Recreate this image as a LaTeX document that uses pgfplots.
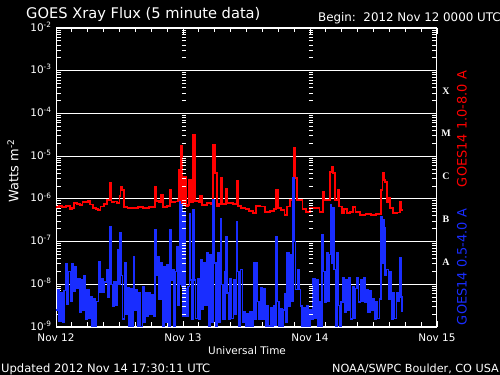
\documentclass[border=0pt]{standalone}
\usepackage{pgfplots}
\pgfplotsset{compat=1.18}
\usepackage{fontspec}
\setmainfont{DejaVu Sans}
\newfontfamily\serifb{Liberation Serif}
\definecolor{goesred}{RGB}{255,0,0}
\definecolor{goesblue}{RGB}{25,45,255}
\def\mylist{-9}
\foreach \n in {-9,...,-3}{%
  \foreach \k in {2,...,9}{%
    \pgfmathparse{\n+log10(\k)}%
    \xdef\mylist{\mylist,\pgfmathresult}%
  }%
}
\pgfplotstableread{
0.0 -6.19
0.5 -6.17
1.2 -6.20
1.9 -6.16
2.6 -6.23
3.0 -6.21
3.4 -6.09
4.0 -6.12
4.5 -6.14
5.0 -6.08
5.5 -6.07
6.0 -6.05
6.4 -6.13
7.0 -6.21
7.6 -6.24
8.0 -6.26
8.4 -6.18
9.0 -6.12
9.6 -6.02
10.0 -6.04
10.2 -5.63
10.5 -6.08
11.0 -6.06
11.5 -6.10
12.0 -5.93
12.2 -5.72
12.5 -5.80
12.8 -6.20
13.5 -6.21
14.5 -6.22
15.5 -6.20
16.5 -6.21
17.5 -6.19
18.3 -6.20
18.7 -5.72
19.0 -6.05
19.5 -6.08
19.8 -5.91
20.2 -6.19
21.0 -6.16
21.5 -5.79
21.8 -6.08
22.5 -6.06
23.0 -6.02
23.3 -5.33
23.5 -6.10
23.6 -4.77
23.9 -6.12
24.2 -5.49
24.5 -6.16
25.0 -6.15
25.2 -5.56
25.5 -6.07
25.9 -4.51
26.2 -6.05
27.0 -6.08
27.2 -5.93
27.6 -6.14
28.5 -6.10
29.3 -6.12
29.7 -4.74
30.0 -5.40
30.4 -6.16
30.8 -6.12
31.1 -5.51
31.4 -6.12
32.1 -5.77
32.4 -6.10
33.5 -6.12
34.1 -5.58
34.4 -6.16
35.0 -6.22
35.8 -6.24
36.4 -6.28
37.2 -6.33
37.8 -6.16
38.6 -6.18
39.5 -6.30
40.4 -6.28
41.2 -6.24
41.6 -5.79
41.9 -6.21
42.5 -6.26
43.2 -6.37
43.7 -6.18
44.2 -6.02
44.7 -6.00
44.9 -4.81
45.2 -5.51
45.5 -6.02
46.1 -6.03
46.6 -6.24
47.2 -6.30
48.0 -6.21
49.0 -6.22
49.8 -6.30
50.4 -5.84
50.7 -6.02
51.3 -6.02
51.8 -5.37
52.1 -5.26
52.4 -5.40
52.7 -6.02
53.2 -5.79
53.5 -6.18
54.0 -6.33
54.5 -6.24
55.0 -6.33
55.6 -6.30
56.1 -6.19
56.6 -6.30
57.5 -6.37
58.5 -6.36
59.5 -6.37
60.5 -6.35
61.2 -6.35
61.4 -5.79
61.7 -5.40
62.0 -5.55
62.2 -5.60
62.5 -6.07
62.8 -5.98
63.1 -6.21
63.7 -6.33
64.5 -6.32
65.0 -6.07
65.3 -6.26
65.5 -6.26
}\longdata
\pgfplotstableread{
0.0 -8.6
0.3 -8.12
0.6 -8.86
0.9 -8.2
1.2 -8.9
1.5 -8.15
1.8 -7.53
2.1 -8.47
2.4 -7.7
2.7 -8.4
3.0 -7.53
3.3 -8.16
3.6 -7.6
3.9 -8.1
4.2 -7.88
4.5 -8.65
4.8 -7.9
5.1 -8.6
5.3 -7.81
5.6 -8.81
5.9 -8.12
6.2 -8.8
6.5 -8.30
6.8 -9.05
7.1 -8.35
7.4 -9.05
7.7 -8.4
8.0 -7.47
8.3 -8.19
8.6 -7.88
8.9 -8.19
9.2 -7.95
9.5 -7.65
9.8 -8.3
10.1 -8.0
10.2 -6.65
10.4 -8.0
10.7 -8.51
11.0 -7.95
11.3 -8.5
11.6 -7.19
11.8 -8.0
12.1 -6.79
12.3 -7.8
12.6 -8.81
12.9 -7.49
13.2 -8.7
13.5 -8.07
13.8 -9.05
14.1 -8.1
14.4 -9.05
14.6 -7.35
14.8 -8.6
15.1 -8.12
15.4 -9.05
15.7 -8.2
16.0 -9.0
16.3 -8.05
16.6 -8.9
16.9 -8.19
17.2 -8.74
17.5 -8.2
17.8 -8.7
18.1 -8.25
18.4 -8.74
18.7 -6.72
18.9 -7.8
19.2 -7.35
19.5 -8.35
19.8 -7.49
20.1 -9.0
20.4 -7.6
20.7 -8.9
21.0 -7.55
21.3 -9.0
21.5 -6.72
21.7 -7.9
22.0 -7.65
22.3 -8.98
22.6 -7.7
22.9 -7.12
23.1 -8.5
23.3 -6.07
23.45 -8.0
23.6 -6.14
23.8 -8.05
24.0 -8.74
24.2 -6.33
24.4 -8.1
24.6 -8.74
24.9 -8.05
25.2 -6.35
25.4 -7.9
25.6 -8.81
25.9 -6.26
26.1 -7.9
26.4 -8.8
26.7 -7.88
27.0 -8.81
27.3 -7.42
27.6 -8.58
27.9 -7.5
28.2 -8.5
28.5 -7.26
28.8 -9.0
29.1 -7.3
29.4 -8.9
29.7 -6.02
29.9 -7.5
30.2 -8.98
30.5 -7.26
30.8 -8.9
31.1 -6.47
31.3 -8.0
31.6 -8.81
31.9 -7.7
32.1 -6.88
32.3 -8.2
32.6 -8.81
32.9 -7.88
33.2 -8.8
33.5 -7.9
33.8 -8.7
34.1 -6.53
34.3 -7.7
34.6 -8.98
34.9 -7.65
35.2 -8.9
35.5 -8.65
35.8 -9.05
36.1 -8.7
36.4 -9.05
36.7 -8.65
37.0 -9.05
37.3 -7.49
37.6 -8.81
37.8 -7.49
38.1 -8.4
38.4 -8.81
38.7 -8.07
39.0 -8.81
39.3 -8.1
39.6 -8.98
39.9 -8.51
40.2 -8.98
40.5 -8.55
40.8 -8.98
41.1 -8.5
41.4 -8.95
41.6 -6.88
41.8 -8.4
42.1 -9.0
42.4 -8.58
42.7 -9.0
43.0 -8.6
43.3 -8.23
43.5 -8.9
43.7 -7.26
44.0 -8.51
44.3 -7.3
44.6 -8.4
44.8 -5.51
45.0 -7.0
45.3 -8.12
45.6 -7.65
45.9 -8.12
46.2 -8.51
46.5 -9.0
46.8 -8.55
47.1 -9.0
47.4 -8.5
47.7 -9.05
48.0 -8.6
48.3 -8.81
48.6 -7.88
48.9 -8.8
49.2 -7.9
49.5 -8.98
49.8 -8.42
50.1 -8.98
50.3 -6.84
50.5 -7.7
50.8 -8.42
51.1 -7.26
51.4 -8.4
51.7 -7.3
51.9 -6.14
52.1 -7.5
52.3 -6.2
52.5 -7.65
52.8 -8.98
53.1 -7.26
53.3 -8.5
53.6 -8.98
53.9 -8.42
54.2 -7.84
54.5 -8.65
54.8 -7.9
55.1 -8.6
55.4 -7.84
55.7 -8.81
56.0 -8.05
56.3 -8.8
56.6 -8.1
56.9 -7.84
57.2 -8.42
57.5 -7.9
57.8 -8.4
58.1 -7.84
58.4 -8.42
58.7 -8.12
59.0 -8.65
59.3 -8.15
59.6 -8.6
59.9 -8.35
60.2 -8.81
60.5 -8.4
60.8 -8.8
61.1 -8.35
61.4 -6.42
61.6 -7.5
61.8 -6.49
62.0 -6.67
62.2 -7.8
62.5 -7.65
62.8 -8.35
63.1 -7.7
63.4 -8.81
63.7 -8.19
64.0 -8.8
64.3 -8.2
64.6 -8.4
64.8 -8.3
65.0 -7.37
65.2 -8.3
65.4 -8.63
65.5 -8.63
}\shortdata
\begin{document}
\begin{tikzpicture}
\fill[black] (0bp,0bp) rectangle (500bp,375bp);
\useasboundingbox (0bp,0bp) rectangle (500bp,375bp);
\begin{axis}[
  at={(56bp,48bp)}, anchor=south west,
  scale only axis, width=381bp, height=299bp,
  xmin=0, xmax=72, ymin=-9, ymax=-2,
  axis line style={white, line width=1bp},
  xtick={0,24,48,72},
  xticklabels={Nov 12,Nov 13,Nov 14,Nov 15},
  minor xtick={3,6,...,69},
  ytick={-9,-8,...,-2},
  yticklabels={10\textsuperscript{-9},10\textsuperscript{-8},10\textsuperscript{-7},10\textsuperscript{-6},10\textsuperscript{-5},10\textsuperscript{-4},10\textsuperscript{-3},10\textsuperscript{-2}},
  minor ytick/.expanded=\mylist,
  tick align=inside,
  major tick length=6bp, minor tick length=4.5bp,
  tick style={white, line width=0.9bp},
  ymajorgrids, major grid style={white, line width=0.9bp},
  tick label style={white, font=\fontsize{10.5}{12}\selectfont},
  yticklabel style={xshift=-1bp, yshift=1.5bp},
  xticklabel style={yshift=-3bp},
]
\addplot[goesred, line width=1.8bp, const plot, mark=none] table[x index=0, y index=1] {\longdata};
\addplot[goesblue, line width=1.5bp, const plot, mark=none] table[x index=0, y index=1] {\shortdata};
\foreach \v in \mylist {
  \edef\tmp{\noexpand\draw[white, line width=0.9bp] ([xshift=-1bp]axis cs:24,\v) -- ([xshift=3bp]axis cs:24,\v);
  \noexpand\draw[white, line width=0.9bp] ([xshift=-1bp]axis cs:48,\v) -- ([xshift=3bp]axis cs:48,\v);}
  \tmp
}
\end{axis}
\node[white, anchor=base west, font=\fontsize{14.7}{16}\selectfont, inner sep=0pt] at (26bp,356bp) {GOES Xray Flux (5 minute data)};
\node[white, anchor=base west, font=\fontsize{11.9}{14}\selectfont, inner sep=0pt] at (318bp,353bp) {Begin:\ \ 2012 Nov 12 0000 UTC};
\node[white, rotate=90, font=\fontsize{13}{15}\selectfont, inner sep=0pt] at (13bp,204bp) {Watts m\textsuperscript{-2}};
\node[white, font=\fontsize{10.5}{12}\selectfont, inner sep=0pt] at (247bp,24bp) {Universal Time};
\node[white, anchor=base west, font=\fontsize{11.6}{13}\selectfont, inner sep=0pt] at (1bp,3bp) {Updated 2012 Nov 14 17:30:11 UTC};
\node[white, anchor=base east, font=\fontsize{11.25}{13}\selectfont, inner sep=0pt] at (499bp,3bp) {NOAA/SWPC Boulder, CO USA};
\node[goesred, rotate=90, font=\fontsize{13}{15}\selectfont, inner sep=0pt] at (462bp,246bp) {GOES14 1.0-8.0 A};
\node[goesblue, rotate=90, font=\fontsize{13}{15}\selectfont, inner sep=0pt] at (462bp,108bp) {GOES14 0.5-4.0 A};
\foreach \lab/\yy in {X/284,M/242,C/199,B/156,A/113}{
  \node[white, font=\serifb\bfseries\fontsize{10}{12}\selectfont, inner sep=0pt] at (446bp,\yy bp) {\lab};
}
\end{tikzpicture}
\end{document}
